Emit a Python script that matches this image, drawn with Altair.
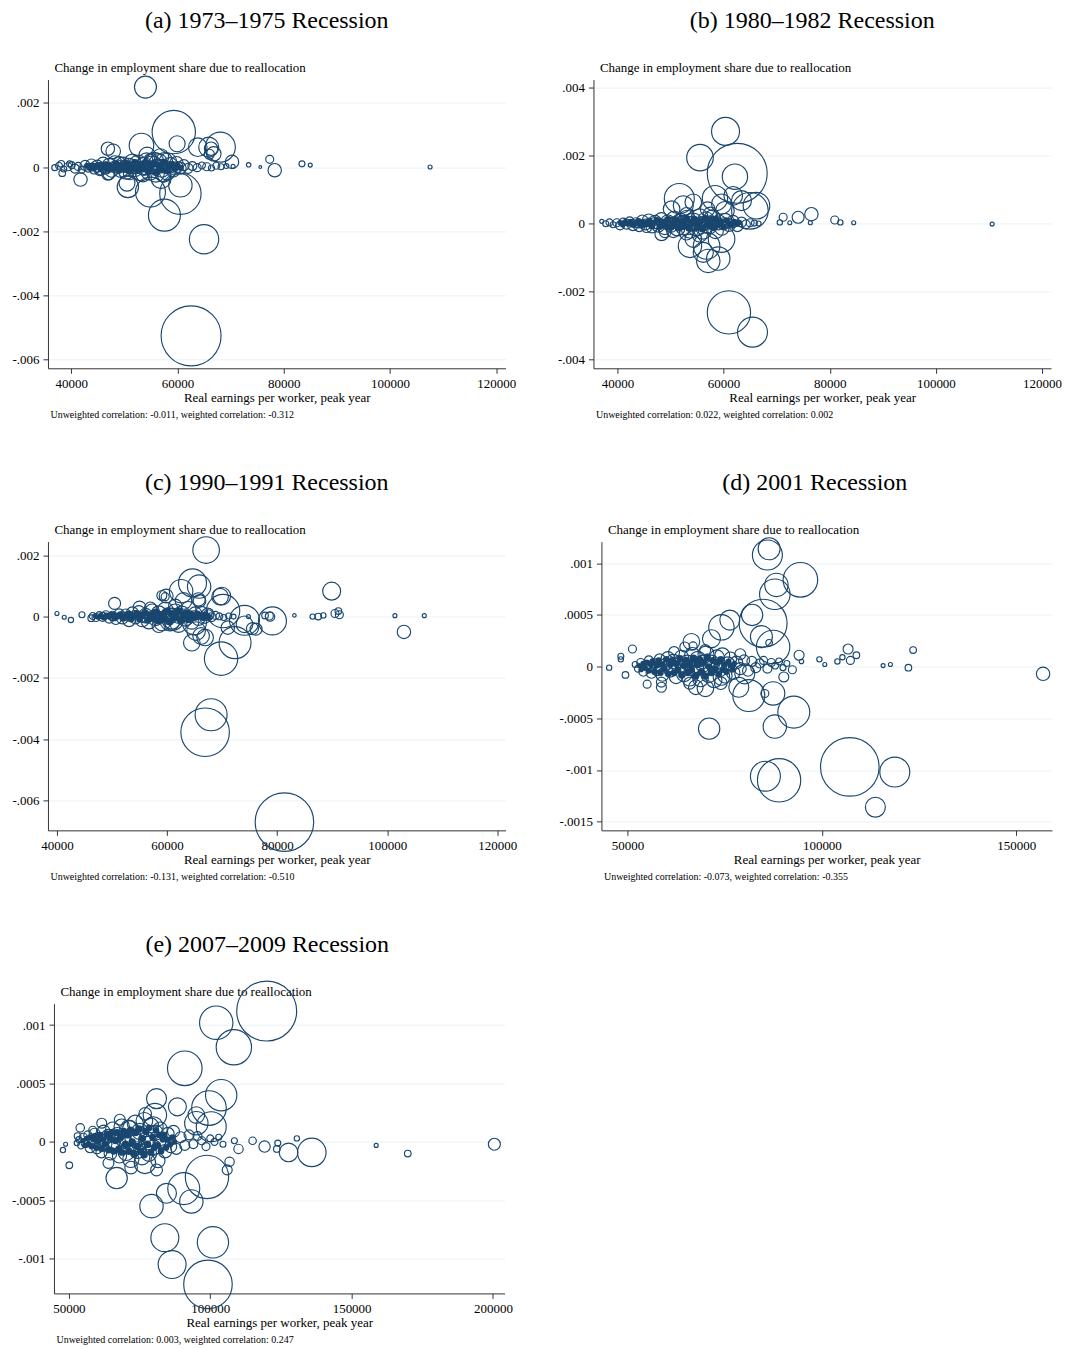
import altair as alt
import pandas as pd

SERIF = "Liberation Serif"
NAVY = "#1a476f"
XTITLE = "Real earnings per worker, peak year"
YTITLE = "Change in employment share due to reallocation"

# ---------------- (a) 1973-1975 ----------------
A_EARN = [53970, 59300, 59930, 62560, 65000, 57540, 60550, 60550, 54910, 50660, 50500, 56920, 41750, 47090, 78300,
          38300, 53220, 47900, 68070, 65880, 66830, 70270, 54290, 56790, 77360, 83430, 84990, 73400, 75590, 70460,
          107550, 63820, 66320, 66000, 38120, 39690, 46900, 45640, 46900, 57240, 58180, 55660,
          36900, 37700, 38600, 39400, 40100, 40700, 41300, 42000, 42600, 43200, 43800, 44300, 44900, 45400, 46000,
          46500, 47100, 47600, 48200, 48700, 49300, 49800, 50400, 50900, 51500, 52000, 52600, 53100, 53700, 54200,
          54800, 55300, 55900, 56400, 57000, 57500, 58100, 58600, 59200, 59800, 60500, 61200, 62000, 62800, 63700,
          64600, 65500, 66400, 67300, 68200, 69200,
          44000, 46000, 48000, 50000, 52000, 54000, 56000, 58000, 60000, 51000, 55000, 53500, 57500, 49000]
A_CHANGE = [0.00249, 0.00109, 0.000725, -0.00526, -0.00225, -0.00150, -0.00083, -0.00057, -0.00078, -0.00062, -0.00050,
            -0.00036, -0.00039, -0.00021, -0.00010, -0.00019, 0.00067, 0.00049, 0.00062, 0.00062, 0.00041, 0.00016,
            0.00036, 0.00031, 0.00024, 0.00010, 0.00006, 0.00007, 0.00000, 0.00002, 0.00000, 0.00062, 0.00057, 0.00040,
            0.00010, 0.00010, 0.00057, -0.00005, -0.00021, -0.00021, 0.00016, 0.00016,
            -0.00002, 0.00004, -0.00006, 0.00001, 0.00006, -0.00005, 0.00002, -0.00008, 0.00005, -0.00002, 0.00008,
            -0.00006, 0.00003, -0.00010, 0.00011, -0.00003, 0.00006, -0.00012, 0.00013, 0.00001, -0.00009, 0.00009,
            -0.00014, 0.00004, 0.00015, -0.00006, 0.00010, -0.00017, 0.00002, 0.00017, -0.00012, 0.00007, -0.00020,
            0.00013, -0.00004, 0.00019, -0.00015, 0.00005, -0.00009, 0.00012, -0.00003, 0.00006, -0.00004, 0.00003,
            -0.00002, 0.00005, 0.00001, -0.00003, 0.00004, 0.00001, 0.00003,
            0.0, -0.00001, 0.0, 0.00002, 0.0, -0.00002, 0.00001, -0.00001, 0.0, -0.00020, 0.00022, -0.00024, -0.00026, 0.00016]
A_WEIGHT = [121, 470, 64, 900, 216, 256, 428, 137, 225, 114, 64, 100, 45, 36, 45, 11, 151, 53, 225, 100, 53, 45, 69, 69,
            16, 9, 4, 5, 2, 4, 4, 87, 45, 25, 11, 9, 45, 40, 40, 60, 80, 90,
            9, 12, 9, 16, 12, 20, 16, 12, 25, 20, 30, 25, 36, 30, 40, 36, 45, 40, 50, 45, 55, 50, 60, 55, 65, 60, 75,
            70, 80, 75, 85, 80, 75, 85, 80, 70, 65, 60, 50, 45, 36, 30, 25, 20, 16, 12, 16, 9, 12, 9, 6,
            16, 25, 30, 36, 45, 50, 50, 40, 30, 40, 45, 50, 45, 30]
# dense core of many small industries
A_CORE_EARN = [43000, 43500, 44000, 44500, 45000, 45500, 46000, 46500, 47000, 47500, 48000, 48500, 49000, 49500,
               50000, 50500, 51000, 51500, 52000, 52500, 53000, 53500, 54000, 54500, 55000, 55500, 56000, 56500,
               57000, 57500, 58000, 58500, 59000, 59500, 60000, 60500]
A_CORE_CHANGE = [0.00003, -0.00004, 0.00005, -0.00002, 0.00006, -0.00007, 0.00002, 0.00008, -0.00008, 0.00003,
                 -0.00004, 0.00010, -0.00010, 0.00005, -0.00003, 0.00011, -0.00012, 0.00001, 0.00013, -0.00010,
                 0.00006, -0.00005, 0.00014, -0.00014, 0.00002, 0.00010, -0.00016, 0.00005, -0.00008, 0.00014,
                 -0.00011, 0.00002, 0.00009, -0.00006, 0.00004, -0.00002]
A_CORE_WEIGHT = [9, 7, 9, 9, 10, 9, 11, 10, 11, 10, 12, 11, 12, 11, 14, 12, 14, 12, 15, 14, 15, 14, 15, 14,
                 15, 14, 15, 14, 15, 14, 14, 12, 11, 11, 10, 9]

# ---------------- (b) 1980-1982 ----------------
B_EARN = [60370, 55560, 62570, 62140, 51660, 52410, 58380, 61820, 64960, 66200, 54300, 56990, 59620, 76550, 74050,
          71230, 80950, 82000, 70600, 76350, 72480, 84520, 110600, 37050, 61010, 65450, 57120, 59000, 53670, 56800,
          59620, 48330, 54300, 50530, 45510, 56180, 60260, 50210, 63380, 53030,
          37800, 38500, 39200, 39900, 40500, 41100, 41700, 42300, 42900, 43500, 44100, 44700, 45300, 45900, 46500,
          47100, 47700, 48300, 48900, 49500, 50100, 50700, 51300, 51900, 52500, 53100, 53700, 54300, 54900, 55500,
          56100, 56700, 57300, 57900, 58500, 59100, 59700, 60300, 61000, 61800, 62600, 63400, 64200, 65000, 65800, 66600,
          44000, 47000, 50000, 52000, 54000, 56000, 58000, 60000, 53000, 55500, 57500, 49000]
B_CHANGE = [0.00270, 0.00193, 0.00147, 0.00137, 0.00073, 0.00052, 0.00074, 0.00081, 0.00037, 0.00052, 0.00062, 0.00042,
            0.00057, 0.00027, 0.00018, 0.00018, 0.00010, 0.00003, 0.00003, 0.00002, 0.00002, 0.00002, -0.00002, 0.00006,
            -0.00261, -0.00319, -0.00110, -0.00103, -0.00066, -0.00066, -0.00046, -0.00031, -0.00046, -0.00022, -0.00012,
            -0.00085, 0.00037, 0.00042, 0.00067, 0.00027,
            -0.00001, 0.00003, -0.00004, 0.00002, -0.00006, 0.00004, -0.00002, 0.00006, -0.00005, 0.00002, -0.00008,
            0.00007, -0.00003, 0.00009, -0.00010, 0.00004, -0.00007, 0.00011, -0.00013, 0.00003, -0.00005, 0.00013,
            -0.00015, 0.00006, -0.00009, 0.00015, -0.00018, 0.00004, -0.00012, 0.00018, -0.00020, 0.00008, -0.00006,
            0.00016, -0.00022, 0.00003, -0.00014, 0.00010, -0.00005, 0.00006, -0.00008, 0.00004, -0.00003, 0.00002,
            0.00001, 0.00000,
            0.0, 0.00001, -0.00001, 0.00001, 0.0, -0.00001, 0.00001, -0.00001, -0.00028, -0.00032, 0.00027, -0.00024]
B_WEIGHT = [196, 177, 900, 161, 225, 100, 161, 87, 335, 177, 69, 53, 100, 45, 36, 16, 16, 7, 7, 4, 4, 4, 4, 4,
            470, 225, 137, 137, 137, 177, 177, 45, 69, 45, 25, 100, 87, 69, 100, 45,
            9, 12, 9, 16, 20, 16, 25, 20, 30, 25, 30, 36, 30, 40, 36, 45, 40, 50, 45, 55, 50, 60, 55, 65, 70, 65, 75,
            80, 75, 70, 80, 75, 70, 65, 60, 55, 50, 45, 40, 36, 30, 25, 20, 16, 9, 6,
            20, 30, 36, 45, 50, 50, 45, 36, 50, 60, 50, 36]
B_CORE_EARN = [40500, 41000, 41500, 42000, 42500, 43000, 43500, 44000, 44500, 45000, 45500, 46000, 46500, 47000,
               47500, 48000, 48500, 49000, 49500, 50000, 50500, 51000, 51500, 52000, 52500, 53000, 53500, 54000,
               54500, 55000, 55500, 56000, 56500, 57000, 57500, 58000, 58500, 59000, 59500, 60000, 60500, 61000,
               61500, 62000, 62500, 63000]
B_CORE_CHANGE = [0.00002, -0.00003, 0.00004, -0.00001, 0.00005, -0.00005, 0.00001, 0.00006, -0.00006, 0.00003,
                 -0.00002, 0.00008, -0.00008, 0.00002, 0.00009, -0.00009, 0.00004, -0.00004, 0.00011, -0.00011,
                 0.00002, 0.00010, -0.00012, 0.00004, -0.00006, 0.00013, -0.00013, 0.00002, 0.00011, -0.00010,
                 0.00005, -0.00015, 0.00013, -0.00003, 0.00006, -0.00012, 0.00012, -0.00004, 0.00004, -0.00009,
                 0.00009, 0.00001, -0.00006, 0.00005, -0.00002, 0.00003]
B_CORE_WEIGHT = [7, 9, 7, 9, 9, 9, 10, 10, 10, 10, 11, 11, 11, 11, 12, 12, 12, 12, 14, 14, 14, 14, 15, 14,
                 15, 15, 15, 14, 15, 15, 14, 15, 15, 14, 14, 14, 12, 12, 11, 11, 10, 10, 9, 9, 9, 7]

# ---------------- (c) 1990-1991 ----------------
C_EARN = [67100, 64630, 65830, 69640, 70180, 89910, 74070, 79150, 72360, 69820, 68010, 66920, 81330, 103040, 101400,
          106740, 50470, 64500, 66920, 65280, 75520, 60560, 59060, 59660, 63000, 65720, 86460, 88400, 90510, 91310,
          91130, 83140, 74790, 77810, 78720, 40000, 41330, 42540, 44540, 46230,
          62560, 59840, 65900, 67400, 64980, 61050, 69950, 74070, 71040, 76170, 66190, 78590, 87470,
          46500, 47100, 47700, 48300, 48900, 49500, 50100, 50700, 51300, 51900, 52500, 53100, 53700, 54300, 54900,
          55500, 56100, 56700, 57300, 57900, 58500, 59100, 59700, 60300, 60900, 61500, 62100, 62700, 63300, 63900,
          64500, 65100, 65700, 66300, 66900, 67500, 68100, 68800, 69500, 70300, 71200, 72100,
          50000, 53000, 56000, 58000, 60000, 62000, 64000, 55000, 58500, 61500, 57000]
C_CHANGE = [0.00217, 0.00110, 0.00098, 0.00065, 0.00018, 0.00083, -0.00012, -0.00014, -0.00085, -0.00137, -0.00320,
            -0.00377, -0.00670, -0.00050, 0.00003, 0.00003, 0.00043, -0.00085, -0.00068, -0.00047, -0.00039, -0.00014,
            0.00069, 0.00065, 0.00051, 0.00056, 0.00000, 0.00004, 0.00010, 0.00006, 0.00018, 0.00004, 0.00000, 0.00004,
            0.00000, 0.00010, -0.00002, -0.00011, 0.00006, -0.00005,
            0.00083, 0.00067, 0.00051, 0.00007, -0.00020, -0.00009, 0.00067, -0.00025, -0.00036, -0.00041, -0.00063,
            0.00002, 0.00000,
            0.00002, -0.00003, 0.00005, -0.00001, 0.00006, -0.00005, 0.00003, -0.00008, 0.00009, -0.00004, 0.00007,
            -0.00012, 0.00012, -0.00002, 0.00015, -0.00010, 0.00005, -0.00016, 0.00018, -0.00004, 0.00011, -0.00020,
            0.00022, 0.00002, -0.00014, 0.00016, -0.00024, 0.00008, -0.00006, 0.00025, -0.00018, 0.00010, -0.00008,
            0.00014, -0.00004, 0.00006, -0.00002, 0.00004, 0.00001, -0.00003, 0.00002, 0.00000,
            0.0, 0.00001, -0.00001, 0.0, 0.00001, -0.00001, 0.0, 0.00030, -0.00030, 0.00035, 0.00028]
C_WEIGHT = [177, 196, 137, 69, 279, 81, 225, 196, 256, 279, 256, 590, 858, 45, 4, 4, 36, 69, 69, 87, 36, 100, 25, 16,
            69, 45, 7, 7, 16, 16, 11, 3, 4, 11, 22, 4, 4, 7, 9, 11,
            137, 48, 40, 40, 144, 120, 78, 69, 45, 36, 69, 16, 11,
            12, 16, 12, 20, 16, 25, 20, 30, 25, 36, 30, 40, 36, 45, 40, 50, 45, 55, 50, 60, 55, 65, 60, 70, 65, 60,
            70, 65, 60, 55, 50, 45, 40, 36, 30, 25, 20, 16, 12, 9, 9, 6,
            16, 25, 36, 40, 45, 40, 36, 40, 45, 45, 36]
C_CORE_EARN = [47000, 47500, 48000, 48500, 49000, 49500, 50000, 50500, 51000, 51500, 52000, 52500, 53000, 53500,
               54000, 54500, 55000, 55500, 56000, 56500, 57000, 57500, 58000, 58500, 59000, 59500, 60000, 60500,
               61000, 61500, 62000, 62500, 63000, 63500, 64000, 64500, 65000, 65500, 66000, 66500, 67000, 67500]
C_CORE_CHANGE = [0.00001, -0.00002, 0.00003, -0.00003, 0.00004, 0.00000, 0.00005, -0.00005, 0.00002, 0.00007,
                 -0.00006, 0.00001, 0.00009, -0.00008, 0.00003, 0.00010, -0.00009, 0.00002, 0.00012, -0.00011,
                 0.00005, -0.00004, 0.00014, -0.00013, 0.00006, -0.00006, 0.00016, -0.00016, 0.00008, -0.00003,
                 0.00018, -0.00012, 0.00003, 0.00012, -0.00009, 0.00006, -0.00003, 0.00009, 0.00002, -0.00004,
                 0.00004, 0.00000]
C_CORE_WEIGHT = [7, 7, 7, 9, 9, 9, 9, 10, 10, 10, 11, 11, 11, 11, 12, 12, 12, 12, 14, 14, 14, 14, 15, 15,
                 15, 15, 15, 15, 15, 15, 15, 15, 14, 14, 12, 12, 11, 11, 10, 10, 9, 9]

# ---------------- (d) 2001 ----------------
D_EARN = [86430, 85990, 94480, 88310, 87900, 84890, 82060, 76330, 74170, 71600, 84450, 87460, 66450, 64760, 66890,
          86430, 51290, 48300, 48300, 45300, 49490, 55070, 58740, 58740, 67580, 70050, 74170, 78640, 81210, 80180,
          87460, 85330, 92780, 87900, 71010, 90210, 92420, 94140, 94740, 99360, 100750, 103990, 105280, 106740,
          107330, 108880, 107180, 118750, 89000, 85480, 113760, 115740, 117620, 122250, 123460, 156880,
          52000, 52700, 53400, 54100, 54800, 55500, 56200, 56900, 57600, 58300, 59000, 59700, 60400, 61100, 61800,
          62500, 63200, 63900, 64600, 65300, 66000, 66700, 67400, 68100, 68800, 69500, 70200, 70900, 71600, 72300,
          73000, 73700, 74400, 75100, 75800, 76500, 77200, 78000, 79000, 80000, 81000, 82000, 83000, 84000, 85000,
          86000, 87000, 88000, 89000, 90000, 91000,
          56000, 60000, 64000, 68000, 72000, 62000, 66000, 70000, 74000, 79000]
D_CHANGE = [0.00114, 0.00108, 0.00084, 0.00079, 0.00070, 0.00042, 0.00050, 0.00045, 0.00038, 0.00027, 0.00029,
            0.00019, 0.00024, 0.00019, 0.00020, 0.00023, 0.00017, 0.00010, 0.00007, -0.00001, -0.00008, -0.00017,
            -0.00020, -0.00015, -0.00020, -0.00021, -0.00010, -0.00020, -0.00028, -0.00007, -0.00026, -0.00026,
            -0.00044, -0.00058, -0.00060, -0.00010, -0.00003, 0.00011, 0.00005, 0.00007, 0.00002, 0.00005, 0.00009,
            0.00017, 0.00006, 0.00011, -0.00097, -0.00102, -0.00110, -0.00106, -0.00136, 0.00001, 0.00002, -0.00001,
            0.00016, -0.00007,
            0.00002, -0.00002, 0.00004, -0.00005, 0.00001, 0.00006, -0.00006, 0.00003, -0.00003, 0.00007, -0.00008,
            0.00002, 0.00008, -0.00004, 0.00005, -0.00010, 0.00001, 0.00009, -0.00007, 0.00004, -0.00011, 0.00011,
            -0.00002, 0.00007, -0.00012, 0.00003, 0.00012, -0.00008, 0.00004, -0.00013, 0.00009, -0.00003, 0.00011,
            -0.00009, 0.00003, 0.00008, -0.00006, 0.00004, -0.00002, 0.00006, -0.00004, 0.00005, -0.00001, 0.00003,
            0.00006, -0.00002, 0.00004, 0.00001, 0.00005, -0.00001, 0.00003,
            0.0, 0.00001, -0.00001, 0.0, 0.00001, 0.00014, -0.00016, 0.00016, -0.00016, 0.00012]
D_WEIGHT = [121, 225, 300, 137, 234, 576, 114, 100, 161, 81, 121, 279, 69, 25, 16, 11, 16, 9, 7, 7, 11, 16, 25, 25,
            53, 69, 69, 100, 256, 100, 137, 16, 256, 137, 114, 25, 16, 25, 5, 7, 4, 7, 7, 25, 16, 11, 858, 225, 470,
            225, 100, 4, 4, 11, 11, 45,
            9, 12, 16, 20, 25, 20, 30, 25, 36, 30, 40, 36, 45, 40, 50, 45, 55, 50, 60, 55, 65, 60, 70, 65, 60, 70, 65,
            60, 55, 60, 55, 50, 55, 50, 45, 40, 45, 40, 36, 30, 30, 25, 25, 20, 16, 20, 16, 12, 12, 9, 9,
            16, 25, 36, 40, 40, 30, 35, 30, 40, 30]
D_CORE_EARN = [53000, 53500, 54000, 54500, 55000, 55500, 56000, 56500, 57000, 57500, 58000, 58500, 59000, 59500,
               60000, 60500, 61000, 61500, 62000, 62500, 63000, 63500, 64000, 64500, 65000, 65500, 66000, 66500,
               67000, 67500, 68000, 68500, 69000, 69500, 70000, 70500, 71000, 71500, 72000, 72500, 73000, 73500,
               74000, 74500, 75000, 75500, 76000, 76500, 77000, 77500]
D_CORE_CHANGE = [0.00001, -0.00003, 0.00003, -0.00001, 0.00004, -0.00004, 0.00002, 0.00005, -0.00005, 0.00001,
                 0.00006, -0.00006, 0.00002, -0.00002, 0.00007, -0.00007, 0.00002, 0.00006, -0.00006, 0.00003,
                 -0.00003, 0.00008, -0.00008, 0.00001, 0.00006, -0.00006, 0.00003, -0.00003, 0.00008, -0.00009,
                 0.00002, 0.00007, -0.00005, 0.00004, -0.00009, 0.00009, 0.00000, -0.00006, 0.00006, -0.00002,
                 0.00004, -0.00007, 0.00007, -0.00003, 0.00002, -0.00005, 0.00005, 0.00001, -0.00003, 0.00003]
D_CORE_WEIGHT = [7, 7, 7, 9, 9, 9, 9, 10, 10, 10, 10, 11, 11, 11, 11, 12, 12, 11, 12, 12, 12, 12, 14, 12,
                 14, 12, 14, 12, 14, 14, 14, 14, 14, 14, 14, 14, 12, 12, 12, 12, 11, 11, 11, 11, 10, 10, 9, 9,
                 9, 7]

# ---------------- (e) 2007-2009 ----------------
E_EARN = [119960, 102110, 108350, 90990, 103870, 99540, 80990, 88380, 80420, 95070, 95070, 100350, 79820, 71620, 61620,
          54010, 53060, 58450, 66900, 50140, 47890, 48840, 52820, 98840, 90630, 84510, 93310, 79220, 76900, 83940,
          100950, 86510, 99190, 106830, 105990, 110000, 108540, 114980, 119210, 123540, 123890, 127700, 135910,
          130630, 158690, 169860, 200490,
          53500, 54300, 55100, 55900, 56700, 57500, 58300, 59100, 59900, 60700, 61500, 62300, 63100, 63900, 64700,
          65500, 66300, 67100, 67900, 68700, 69500, 70300, 71100, 71900, 72700, 73500, 74300, 75100, 75900, 76700,
          77500, 78300, 79100, 79900, 80700, 81500, 82300, 83100, 84000, 85000, 86000, 87000, 88000, 89500, 91000,
          92500, 94000, 95500, 97000, 98500, 100000, 101500, 103000, 104500,
          58000, 62000, 66000, 70000, 74000, 78000, 82000, 72000, 77000, 81000, 68000, 64000]
E_CHANGE = [0.00112, 0.00102, 0.00081, 0.00063, 0.00040, 0.00029, 0.00037, 0.00030, 0.00023, 0.00023, 0.00016,
            0.00013, 0.00013, 0.00012, 0.00016, 0.00012, 0.00005, 0.00010, -0.00031, -0.00020, -0.00007, -0.00002,
            -0.00001, -0.00030, -0.00040, -0.00044, -0.00051, -0.00055, -0.00018, -0.00082, -0.00086, -0.00105,
            -0.00122, -0.00017, -0.00024, -0.00006, 0.00001, 0.00001, -0.00004, -0.00006, -0.00001, -0.00009,
            -0.00009, 0.00003, -0.00003, -0.00010, -0.00002,
            0.00002, -0.00003, 0.00004, -0.00001, 0.00006, -0.00005, 0.00002, 0.00007, -0.00006, 0.00003, -0.00009,
            0.00009, -0.00002, 0.00005, -0.00010, 0.00011, -0.00004, 0.00006, -0.00012, 0.00013, 0.00001, -0.00009,
            0.00012, -0.00015, 0.00004, 0.00016, -0.00007, 0.00009, -0.00013, 0.00018, 0.00002, -0.00010, 0.00014,
            -0.00005, 0.00008, -0.00016, 0.00011, 0.00000, -0.00008, 0.00007, -0.00004, 0.00009, -0.00006, 0.00004,
            -0.00003, 0.00006, -0.00002, 0.00005, 0.00001, -0.00004, 0.00003, 0.00000, 0.00004, -0.00002,
            0.0, 0.00001, -0.00001, 0.0, 0.00001, -0.00001, 0.0, -0.00022, 0.00024, -0.00024, 0.00019, -0.00018]
E_WEIGHT = [900, 279, 313, 300, 246, 300, 100, 81, 137, 69, 137, 225, 100, 53, 25, 18, 11, 16, 114, 11, 7, 4, 7, 470,
            256, 100, 137, 137, 114, 196, 246, 196, 590, 22, 25, 22, 9, 14, 32, 11, 9, 87, 204, 7, 4, 11, 36,
            9, 12, 16, 20, 16, 25, 20, 30, 25, 36, 30, 40, 36, 45, 40, 50, 45, 55, 50, 60, 55, 65, 60, 65, 70, 65, 70,
            65, 60, 70, 65, 60, 55, 60, 55, 50, 50, 45, 45, 40, 36, 36, 30, 30, 25, 25, 20, 20, 16, 16, 12, 12, 9, 9,
            16, 25, 36, 45, 50, 45, 40, 40, 40, 35, 30, 30]
E_CORE_EARN = [55000, 55600, 56200, 56800, 57400, 58000, 58600, 59200, 59800, 60400, 61000, 61600, 62200, 62800,
               63400, 64000, 64600, 65200, 65800, 66400, 67000, 67600, 68200, 68800, 69400, 70000, 70600, 71200,
               71800, 72400, 73000, 73600, 74200, 74800, 75400, 76000, 76600, 77200, 77800, 78400, 79000, 79600,
               80200, 80800, 81400, 82000, 82600, 83200, 83800, 84400, 85000, 85800, 86600, 87400]
E_CORE_CHANGE = [0.00001, -0.00003, 0.00003, -0.00002, 0.00004, -0.00004, 0.00002, 0.00005, -0.00005, 0.00001,
                 0.00006, -0.00006, 0.00002, -0.00002, 0.00007, -0.00007, 0.00003, 0.00008, -0.00008, 0.00001,
                 0.00008, -0.00006, 0.00004, -0.00009, 0.00009, -0.00002, 0.00006, -0.00008, 0.00010, 0.00000,
                 -0.00010, 0.00008, -0.00004, 0.00011, -0.00008, 0.00003, -0.00011, 0.00009, -0.00002, 0.00012,
                 -0.00009, 0.00004, -0.00005, 0.00010, -0.00003, 0.00006, -0.00008, 0.00002, 0.00006, -0.00005,
                 0.00002, -0.00002, 0.00004, 0.00000]
E_CORE_WEIGHT = [7, 7, 7, 9, 9, 9, 9, 10, 10, 10, 10, 11, 11, 11, 11, 12, 11, 12, 12, 12, 12, 12, 14, 12,
                 14, 14, 14, 14, 14, 14, 14, 14, 14, 14, 14, 14, 14, 14, 14, 12, 12, 12, 12, 11, 11, 11, 11, 10,
                 10, 10, 9, 9, 9, 7]

Y_LABEL_EXPR = ("datum.value == 0 ? '0' : replace(replace(replace(format(datum.value, '.4~f'), '\u2212', '-'), "
                "'-0.', '-.'), '0.', '.')")

SIZE_SCALE = alt.Scale(domain=[0, 1000], range=[0, 4000])


def panel(earn, change, weight, core_earn, core_change, core_weight,
          xdom, ydom, xvals, yvals, title, note, w, h, dx, toff):
    df = pd.DataFrame({"earn": earn, "change": change, "weight": weight})
    core = pd.DataFrame({"earn": core_earn, "change": core_change, "weight": core_weight})
    xenc = alt.X("earn:Q", scale=alt.Scale(domain=xdom, nice=False, zero=False),
                 axis=alt.Axis(values=xvals, format="d", grid=False, title=XTITLE,
                               labelPadding=4, titlePadding=1))
    yenc = alt.Y("change:Q", scale=alt.Scale(domain=ydom, nice=False, zero=False),
                 axis=alt.Axis(values=yvals, labelExpr=Y_LABEL_EXPR, grid=True, title=YTITLE,
                               titleAngle=0, titleAlign="left", titleBaseline="alphabetic",
                               titleX=6, titleY=-8, labelPadding=4))
    core_pts = alt.Chart(core).mark_point(
        shape="circle", filled=True, color=NAVY, strokeWidth=0, opacity=1
    ).encode(x=xenc, y=yenc,
             size=alt.Size("weight:Q", scale=SIZE_SCALE, legend=None))
    pts = alt.Chart(df).mark_point(
        shape="circle", filled=False, color=NAVY, strokeWidth=1.15, opacity=1
    ).encode(x=xenc, y=yenc,
             size=alt.Size("weight:Q", scale=SIZE_SCALE, legend=None))
    txt = alt.Chart(pd.DataFrame({"note": [note]})).mark_text(
        align="left", baseline="alphabetic", font=SERIF, fontSize=10, color="black"
    ).encode(text="note:N", x=alt.value(2.5), y=alt.value(h + 49.5))
    return alt.layer(core_pts, pts, txt).properties(
        width=w, height=h,
        title=alt.TitleParams(title, anchor="middle", frame="group", dx=dx, offset=toff,
                              baseline="alphabetic", font=SERIF, fontSize=24, fontWeight="normal",
                              color="black"),
    )


def spacer():
    return alt.Chart(pd.DataFrame({"v": [0]})).mark_point(opacity=0).encode(
        x=alt.value(0), y=alt.value(0)).properties(width=1, height=1)


pa = panel(A_EARN, A_CHANGE, A_WEIGHT, A_CORE_EARN, A_CORE_CHANGE, A_CORE_WEIGHT,
           [35620, 121750], [-0.00627, 0.002725],
           [40000, 60000, 80000, 100000, 120000], [-0.006, -0.004, -0.002, 0, 0.002],
           "(a) 1973\u20131975 Recession",
           "Unweighted correlation: -0.011, weighted correlation: -0.312", 458, 289, -10, 10)
pb = panel(B_EARN, B_CHANGE, B_WEIGHT, B_CORE_EARN, B_CORE_CHANGE, B_CORE_WEIGHT,
           [35485, 121690], [-0.00425, 0.00422],
           [40000, 60000, 80000, 100000, 120000], [-0.004, -0.002, 0, 0.002, 0.004],
           "(b) 1980\u20131982 Recession",
           "Unweighted correlation: 0.022, weighted correlation: 0.002", 458, 289, -10, 10)
pc = panel(C_EARN, C_CHANGE, C_WEIGHT, C_CORE_EARN, C_CORE_CHANGE, C_CORE_WEIGHT,
           [38367, 121500], [-0.00697, 0.002445],
           [40000, 60000, 80000, 100000, 120000], [-0.006, -0.004, -0.002, 0, 0.002],
           "(c) 1990\u20131991 Recession",
           "Unweighted correlation: -0.131, weighted correlation: -0.510", 458, 289, -10, 10)
pd_ = panel(D_EARN, D_CHANGE, D_WEIGHT, D_CORE_EARN, D_CORE_CHANGE, D_CORE_WEIGHT,
            [43316, 159177], [-0.001584, 0.001209],
            [50000, 100000, 150000], [-0.0015, -0.001, -0.0005, 0, 0.0005, 0.001],
            "(d) 2001 Recession",
            "Unweighted correlation: -0.073, weighted correlation: -0.355", 451, 289, -12, 10)
pe = panel(E_EARN, E_CHANGE, E_WEIGHT, E_CORE_EARN, E_CORE_CHANGE, E_CORE_WEIGHT,
           [44718, 204085], [-0.001297, 0.001183],
           [50000, 100000, 150000, 200000], [-0.001, -0.0005, 0, 0.0005, 0.001],
           "(e) 2007\u20132009 Recession",
           "Unweighted correlation: 0.003, weighted correlation: 0.247", 451, 290, -12, 2.4)

chart = alt.vconcat(
    alt.hconcat(alt.hconcat(spacer(), pa, spacing=2), pb, spacing=40),
    alt.hconcat(alt.hconcat(spacer(), pc, spacing=2), pd_, spacing=41),
    alt.hconcat(spacer(), pe, spacing=2),
    spacing=50.5,
).properties(
    padding={"left": -5, "top": 0, "right": 0, "bottom": 0},
    background="white",
).configure_view(stroke=None).configure_axis(
    domainColor="#333333", domainWidth=1, tickColor="#333333", tickSize=5, tickWidth=1,
    labelFont=SERIF, labelFontSize=13, labelColor="black",
    titleFont=SERIF, titleFontSize=13, titleFontWeight="normal", titleColor="black",
    gridColor="#eaf2f3", gridWidth=1,
).configure_title(
    font=SERIF, fontSize=24, fontWeight="normal", color="black"
)

chart.save("out.html", embed_options={"renderer": "svg", "actions": False})
